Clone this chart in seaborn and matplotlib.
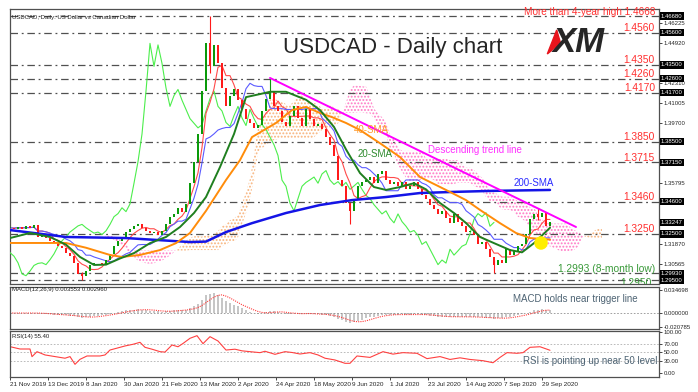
import numpy as np
import pandas as pd
import seaborn as sns
import matplotlib.pyplot as plt
from matplotlib.patches import Polygon

sns.set_style('white')
plt.rcParams['font.family'] = ['Liberation Sans', 'DejaVu Sans']
plt.rcParams['hatch.linewidth'] = 0.9

# x axis = daily bar number (0 = 21 Nov 2019), closes read every 2nd bar
close_i = list(range(0, 272, 2))
closes = [
    1.3290, 1.3285, 1.3296, 1.3282, 1.3300, 1.3288, 1.3305, 1.3232, 1.3245, 1.3222,
    1.3205, 1.3188, 1.3172, 1.3160, 1.3128, 1.3105, 1.3062, 1.2990, 1.2978, 1.3008,
    1.3045, 1.3058, 1.3062, 1.3050, 1.3082, 1.3120, 1.3170, 1.3205, 1.3232, 1.3262,
    1.3282, 1.3302, 1.3312, 1.3290, 1.3272, 1.3255, 1.3262, 1.3246, 1.3270, 1.3312,
    1.3362, 1.3382, 1.3420, 1.3395, 1.3445, 1.3580, 1.3720, 1.3900, 1.4180, 1.4490,
    1.4340, 1.4480, 1.4360, 1.4200, 1.4080, 1.4150, 1.4190, 1.4120, 1.4060, 1.4000,
    1.3970, 1.3940, 1.3960, 1.4050, 1.4130, 1.4180, 1.4080, 1.4050, 1.3975, 1.3950,
    1.4020, 1.4080, 1.4005, 1.3955, 1.4060, 1.4000, 1.3950, 1.3962, 1.3930, 1.3880,
    1.3830, 1.3760, 1.3600, 1.3560, 1.3450, 1.3400, 1.3480, 1.3560, 1.3585, 1.3602,
    1.3620, 1.3580, 1.3640, 1.3662, 1.3600, 1.3572, 1.3590, 1.3560, 1.3585, 1.3540,
    1.3562, 1.3585, 1.3540, 1.3500, 1.3480, 1.3440, 1.3410, 1.3380, 1.3400, 1.3352,
    1.3322, 1.3380, 1.3330, 1.3300, 1.3262, 1.3272, 1.3240, 1.3182, 1.3200, 1.3150,
    1.3100, 1.3050, 1.3080, 1.3060, 1.3150, 1.3112, 1.3140, 1.3170, 1.3182, 1.3250,
    1.3345, 1.3382, 1.3362, 1.3388, 1.3300, 1.3325,
]
wick_i = [36, 100, 130, 170, 242, 264]
wick_hi = [1.3000, 1.4668, 1.4265, 1.3450, 1.3080, 1.3420]
wick_lo = [1.2951, 1.4300, 1.4150, 1.3315, 1.2993, 1.3340]

sma20_x = [0, 10, 20, 28, 35, 42, 48, 55, 62, 70, 78, 85, 92, 98, 105, 112, 118, 125, 130, 138,
           148, 155, 162, 168, 175, 182, 188, 195, 202, 208, 215, 222, 228, 235, 242, 250, 256, 262, 270]
sma20_y = [1.3223, 1.3256, 1.3230, 1.3180, 1.3100, 1.3048, 1.3050, 1.3090, 1.3125, 1.3190,
           1.3230, 1.3295, 1.3386, 1.3490, 1.3685, 1.3900, 1.4140, 1.4160, 1.4175, 1.4175,
           1.4123, 1.4056, 1.3946, 1.3800, 1.3646, 1.3555, 1.3536, 1.3555, 1.3580, 1.3540,
           1.3451, 1.3386, 1.3321, 1.3230, 1.3190, 1.3145, 1.3130, 1.3190, 1.3290]
sma40_x = [0, 28, 38, 50, 56, 65, 75, 83, 90, 98, 108, 115, 121, 133, 141, 148, 155, 161, 168,
           175, 185, 195, 205, 218, 228, 235, 245, 253, 260, 270]
sma40_y = [1.3191, 1.3191, 1.3160, 1.3113, 1.3100, 1.3113, 1.3145, 1.3190, 1.3256, 1.3400,
           1.3601, 1.3730, 1.3880, 1.3972, 1.4056, 1.4076, 1.4037, 1.4010, 1.3972, 1.3926,
           1.3840, 1.3750, 1.3620, 1.3536, 1.3470, 1.3406, 1.3320, 1.3256, 1.3223, 1.3213]
sma200_x = [0, 28, 58, 90, 98, 108, 121, 138, 155, 171, 188, 205, 221, 241, 270]
sma200_y = [1.3275, 1.3230, 1.3223, 1.3197, 1.3200, 1.3262, 1.3320, 1.3386, 1.3438, 1.3470,
            1.3490, 1.3516, 1.3523, 1.3530, 1.3536]
trend_x = [130, 283]
trend_y = [1.4265, 1.3295]

levels = [1.4668, 1.4560, 1.4350, 1.4260, 1.4170, 1.3850, 1.3715, 1.3460, 1.3250, 1.2993, 1.2950]
red_levels = [1.4560, 1.4350, 1.4260, 1.4170, 1.3850, 1.3715, 1.3460, 1.3250]
box_levels = [1.4668, 1.4560, 1.4350, 1.4260, 1.4170, 1.3850, 1.3715, 1.3460, 1.33247, 1.3250,
              1.2993, 1.2950]
price_ticks = [1.46225, 1.44920, 1.42310, 1.41005, 1.39700, 1.35795, 1.31870, 1.30565]

rsi_x = [0, 5, 10, 11, 13.5, 17.5, 22.5, 27.5, 30, 32.5, 35, 38.5, 45, 47.5, 50, 57.5, 61.5, 65,
         67.5, 71, 75, 77.5, 81, 84, 86.5, 90, 93.5, 96.5, 100, 104, 108, 112.5, 116, 120, 125,
         127.5, 132.5, 137.5, 141, 145, 150, 154, 157.5, 162.5, 167.5, 170, 173.5, 180, 186.5,
         191.5, 196.5, 203.5, 208.5, 215, 220, 225, 230, 236.5, 241.5, 245, 248.5, 253.5, 256.5,
         260, 265, 268.5, 270]
rsi_y = [64.2, 58.5, 58.5, 39.8, 52, 44, 40, 36, 40, 21.1, 33.3, 41.5, 41.5, 44, 56, 65.9, 70,
         74.8, 62.6, 58, 52, 51, 68.3, 64, 72, 84.6, 91, 71.5, 88.6, 78, 56, 58, 54, 52, 49.6,
         53, 45.5, 52, 50, 46.3, 49.6, 44, 36, 31.7, 23.6, 23.6, 41.5, 38, 52, 46, 49.6, 48, 35,
         40, 33, 37, 33, 30, 25, 38, 49.6, 48, 49.6, 62.6, 64, 58, 55.4]

date_i = [0, 19, 38, 57, 76, 95, 114, 133, 152, 171, 190, 209, 228, 247, 266]
date_labels = ['21 Nov 2019', '13 Dec 2019', '8 Jan 2020', '30 Jan 2020', '21 Feb 2020',
               '13 Mar 2020', '2 Apr 2020', '24 Apr 2020', '18 May 2020', '9 Jun 2020',
               '1 Jul 2020', '23 Jul 2020', '14 Aug 2020', '7 Sep 2020', '29 Sep 2020']

# ichimoku and macd from the closes (2 bars per sample)
px = pd.Series(closes, index=close_i)
tenkan = (px.rolling(5, min_periods=1).max() + px.rolling(5, min_periods=1).min()) / 2
kijun = (px.rolling(13, min_periods=1).max() + px.rolling(13, min_periods=1).min()) / 2
span_a = ((tenkan + kijun) / 2).values
span_b = ((px.rolling(26, min_periods=1).max() + px.rolling(26, min_periods=1).min()) / 2).values
cloud_x = np.array(close_i) + 26
macd = px.ewm(span=6, adjust=False).mean() - px.ewm(span=13, adjust=False).mean()
signal = macd.rolling(5, min_periods=1).mean()

W, H = 698, 392
fig = plt.figure(figsize=(W / 100, H / 100), dpi=100)
ax = fig.add_axes([10 / W, (H - 284) / H, 649 / W, 275 / H])
ax_m = fig.add_axes([10 / W, (H - 329) / H, 649 / W, 42 / H])
ax_r = fig.add_axes([10 / W, (H - 377) / H, 649 / W, 46 / H])

for a in (ax, ax_m, ax_r):
    a.set_xlim(0, 324.5)
    for s in a.spines.values():
        s.set_color('#505050')
        s.set_linewidth(0.9)
    a.tick_params(axis='y', left=False, labelleft=False, right=True, labelright=True,
                  length=2, width=0.6, labelsize=4.3, pad=1.5)
    a.tick_params(axis='x', bottom=False, labelbottom=False)

# ---- main panel
ax.set_ylim(1.2924, 1.47136)
up = span_a >= span_b
ax.fill_between(cloud_x, span_a, span_b, where=up, interpolate=True, facecolor='none',
                edgecolor='#f7b27a', hatch='.....', linewidth=0, zorder=1)
ax.fill_between(cloud_x, span_a, span_b, where=~up, interpolate=True, facecolor='none',
                edgecolor='#ff78c4', hatch='.....', linewidth=0, zorder=1)

for lv in levels:
    ax.axhline(lv, color='#505050', lw=0.9, ls=(0, (6, 3, 1.5, 3)), zorder=2)

sns.lineplot(x=np.array(close_i) - 28, y=closes, ax=ax, color='#4cee4c', lw=0.8,
             estimator=None, sort=False, zorder=3)
sns.lineplot(x=close_i, y=tenkan.values, ax=ax, color='#ff4a4a', lw=0.8,
             estimator=None, sort=False, zorder=3)
sns.lineplot(x=close_i, y=kijun.values, ax=ax, color='#5a5aff', lw=0.8,
             estimator=None, sort=False, zorder=3)

opens = [closes[0]] + closes[:-1]
cols = ['#0a9a0a' if c >= o else '#ff1a1a' for o, c in zip(opens, closes)]
body = [c - o if abs(c - o) > 0.0004 else 0.0004 for o, c in zip(opens, closes)]
ax.bar(close_i, body, bottom=opens, width=1.3, color=cols, linewidth=0, zorder=4)
wick_col = [cols[close_i.index(i)] for i in wick_i]
ax.vlines(wick_i, wick_lo, wick_hi, colors=wick_col, lw=0.8, zorder=4)

sns.lineplot(x=sma200_x, y=sma200_y, ax=ax, color='#1414e6', lw=1.8, estimator=None, zorder=5)
sns.lineplot(x=sma40_x, y=sma40_y, ax=ax, color='#ff8c0a', lw=1.4, estimator=None, zorder=5)
sns.lineplot(x=sma20_x, y=sma20_y, ax=ax, color='#1f7f1f', lw=1.4, estimator=None, zorder=5)
sns.lineplot(x=trend_x, y=trend_y, ax=ax, color='#ff00ff', lw=1.4, estimator=None, zorder=6)
ax.scatter([265.5], [1.3191], s=95, color='#ffee00', edgecolor='none', zorder=6)

for lv in red_levels:
    ax.annotate(f'{lv:.4f}', xy=(322.5, lv), xytext=(0, 1.2), textcoords='offset points',
                ha='right', va='baseline', color='#ff3030', fontsize=7.4, zorder=7)
ax.annotate('More than 4-year high 1.4668', xy=(322.5, 1.4668), xytext=(0, 1),
            textcoords='offset points', ha='right', va='baseline', color='#ff3030',
            fontsize=7.2, zorder=7)
ax.annotate('1.2993 (8-month low)', xy=(322.5, 1.2993), xytext=(0, 1),
            textcoords='offset points', ha='right', va='baseline', color='#3a9a3a',
            fontsize=7.4, zorder=7)
ax.text(321, 1.2910, '1.2950', ha='right', va='baseline', color='#3a9a3a', fontsize=7.4,
        clip_on=True, zorder=7)
ax.text(172, 1.3925, '40-SMA', color='#ff9a2a', fontsize=7.0, va='center', zorder=7)
ax.text(174, 1.3768, '20-SMA', color='#2d8a2d', fontsize=7.0, va='center', zorder=7)
ax.text(209, 1.3798, 'Descending trend line', color='#ff30ff', fontsize=7.0, va='center', zorder=7)
ax.text(252, 1.3580, '200-SMA', color='#2a2aff', fontsize=7.0, va='center', zorder=7)
ax.text(1, 1.4660, 'USDCAD, Daily: US Dollar vs Canadian Dollar', fontsize=4.3, va='center',
        color='#202020', zorder=7)

ax.set_yticks(price_ticks)
ax.set_yticklabels([f'{v:.5f}' for v in price_ticks])
ax.set_xlabel('')
ax.set_ylabel('')
ytr = ax.get_yaxis_transform()
for lv in box_levels:
    ax.text(1.003, lv, f'{lv:.5f}', transform=ytr, ha='left', va='center', fontsize=4.3,
            color='white', clip_on=False,
            bbox=dict(boxstyle='square,pad=0.2', fc='black', ec='none'))

# ---- macd panel
ax_m.set_ylim(-0.0241, 0.0392)
ax_m.bar(close_i, macd.values, width=1.4, color='#c6c6c6', linewidth=0)
ax_m.axhline(0, color='#909090', lw=0.6, ls=(0, (2, 2)))
sns.lineplot(x=close_i, y=signal.values, ax=ax_m, color='#ff3b3b', lw=0.8, ls=(0, (1, 1)),
             estimator=None)
ax_m.text(1, 0.0350, 'MACD(12,26,9) 0.003553 0.002960', fontsize=4.3, va='center', color='#202020')
ax_m.text(251.5, 0.0210, 'MACD holds near trigger line', fontsize=7.0, va='center',
          color='#4e6474')
ax_m.set_yticks([0.034698, 0.0, -0.020785])
ax_m.set_yticklabels(['0.034698', '0.000000', '-0.020785'])
ax_m.set_xlabel('')
ax_m.set_ylabel('')

# ---- rsi panel
ax_r.set_ylim(-9.8, 102.4)
for lv in (70, 50, 30):
    ax_r.axhline(lv, color='#b0b0b0', lw=0.6, ls=(0, (2, 2)))
sns.lineplot(x=rsi_x, y=rsi_y, ax=ax_r, color='#ff4040', lw=0.8, estimator=None)
ax_r.text(1, 90, 'RSI(14) 55.40', fontsize=4.3, va='center', color='#202020')
ax_r.text(256.5, 30, 'RSI is pointing up near 50 level', fontsize=7.0, va='center',
          color='#4e6474')
ax_r.set_yticks([100, 70, 50, 30, 0])
ax_r.set_yticklabels(['100.00', '70.00', '50.00', '30.00', '0.00'])
ax_r.set_xticks(date_i)
ax_r.set_xticklabels(date_labels, ha='left', fontsize=4.6)
ax_r.tick_params(axis='x', bottom=True, labelbottom=True, length=2, width=0.6, pad=1.5)
ax_r.set_xlabel('')
ax_r.set_ylabel('')

# title and logo
fig.text(283 / W, 1 - 48 / H, 'USDCAD - Daily chart', fontsize=16, ha='left', va='center')
fig.text(553 / W, 1 - 42 / H, 'XM', fontsize=25, fontweight='bold', style='italic',
         ha='left', va='center')
tri = [(556.7, 30), (547.3, 54), (560.5, 43)]
fig.patches.append(Polygon([(x / W, 1 - y / H) for x, y in tri], closed=True,
                           transform=fig.transFigure, color='#e8141c'))

fig.savefig('out.png', dpi=100)
